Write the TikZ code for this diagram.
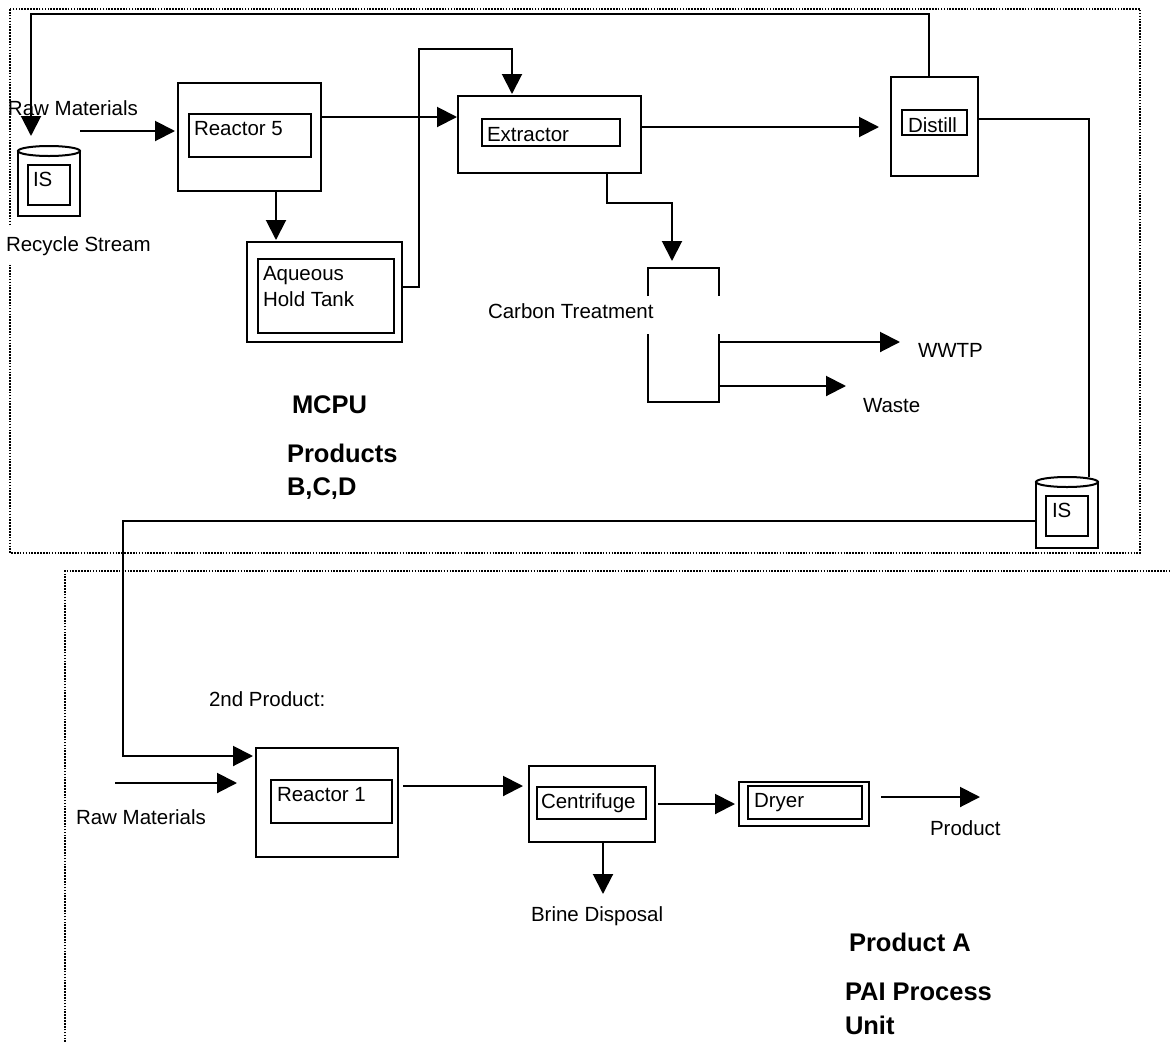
\documentclass[tikz,border=0pt]{standalone}
\usepackage{fontspec}
\setmainfont{Liberation Sans}
\usetikzlibrary{arrows.meta,calc}
\begin{document}
\begin{tikzpicture}[x=1pt,y=-1pt,
  every node/.style={inner sep=0pt,outer sep=0pt,font=\fontsize{20.5pt}{24pt}\selectfont},
  box/.style 2 args={draw,line width=2pt,minimum width=#1pt,minimum height=#2pt},
  ghost/.style 2 args={minimum width=#1pt,minimum height=#2pt},
  txt/.style={anchor=base west},
  btxt/.style={anchor=base west,font=\fontsize{25.5pt}{30pt}\selectfont\bfseries},
  wire/.style={line width=2pt},
  arr/.style={wire,-{Triangle[length=20pt,width=20pt]}},
  frame/.style={line width=1.6pt,dash pattern=on 1.6pt off 1.3pt}]
\useasboundingbox (0,0) rectangle (1171,1042);
\fill[white] (0,0) rectangle (1171,1042);

% frames
\draw[frame] (10,9) rectangle (1140,553);
\draw[frame] (65,1042) -- (65,571) -- (1171,571);

% upper unit
\node[box={143}{108}] (r5) at (249.5,137) {};
\node[box={122}{43}] (r5i) at (250,135.5) {};
\node[txt] (r5t) at (194,135) {Reactor 5};
\node[box={155}{100}] (aq) at (324.5,292) {};
\node[box={136}{74}] (aqi) at (326,296) {};
\node[txt] (aqt1) at (263,280) {Aqueous};
\node[txt] (aqt2) at (263,306) {Hold Tank};
\node[box={183}{77}] (ex) at (549.5,134.5) {};
\node[box={138}{27}] (exi) at (551,132.5) {};
\node[txt] (ext) at (487,141) {Extractor};
\node[box={87}{99}] (di) at (934.5,126.5) {};
\node[box={65}{25}] (dii) at (934.5,122.5) {};
\node[txt] (dit) at (908,132) {Distill};

\node[ghost={71}{134}] (ct) at (683.5,335) {};
\draw[wire] ([yshift=-28pt]ct.north west) -- (ct.north west) -- (ct.north east) -- ([yshift=-28pt]ct.north east);
\draw[wire] ([yshift=68pt]ct.south west) -- (ct.south west) -- (ct.south east) -- ([yshift=68pt]ct.south east);

\node[box={62}{65}] (is1) at (49,183.5) {};
\draw[wire,fill=white] (is1.north) ellipse [x radius=31pt, y radius=5pt];
\node[box={42}{40}] (is1i) at (49,185) {};
\node[txt] (is1t) at (33,186) {IS};

\node[box={62}{66}] (is2) at (1067,515) {};
\draw[wire,fill=white] (is2.north) ellipse [x radius=31pt, y radius=5pt];
\node[box={42}{40}] (is2i) at (1067,516) {};
\node[txt] (is2t) at (1052,517) {IS};

\node[txt] (rawt1) at (8,115) {Raw Materials};
\node[txt,fill=white,inner ysep=10pt,inner xsep=2pt] (rec) at (4,251) {Recycle Stream};
\node[txt] (ctt) at (488,318) {Carbon Treatment};
\node[txt] (wwtp) at (918,357) {WWTP};
\node[txt] (waste) at (863,412) {Waste};
\node[btxt] (mcpu) at (292,413) {MCPU};
\node[btxt] (prods) at (287,462) {Products};
\node[btxt] (bcd) at (287,495) {B,C,D};

% lower unit
\node[box={142}{109}] (r1) at (327,802.5) {};
\node[box={121}{43}] (r1i) at (331.5,801.5) {};
\node[txt] (r1t) at (277,801) {Reactor 1};
\node[box={126}{76}] (ce) at (592,804) {};
\node[box={109}{32}] (cei) at (591.5,803) {};
\node[txt] (cet) at (541,808) {Centrifuge};
\node[box={130}{44}] (dr) at (804,804) {};
\node[box={114}{33}] (dri) at (805,802.5) {};
\node[txt] (drt) at (754,807) {Dryer};

\node[txt] (second) at (209,706) {2nd Product:};
\node[txt] (rawt2) at (76,824) {Raw Materials};
\node[txt] (prodt) at (930,835) {Product};
\node[txt] (brine) at (531,921) {Brine Disposal};
\node[btxt] (proda) at (849,951) {Product A};
\node[btxt] (pai) at (845,1000) {PAI Process};
\node[btxt] (unit) at (845,1034) {Unit};

% connectors upper
\coordinate (rt) at (929,14);
\coordinate (lt) at (31,14);
\draw[arr,shorten >=15pt] (rt |- di.north) -- (rt) -- (lt) -- (lt |- is1.north);
\coordinate (raw1) at (80,131);
\draw[arr,shorten >=3pt] (raw1) -- (raw1 -| r5.west);
\coordinate (x276) at (276,0);
\draw[arr,shorten >=2pt] (x276 |- r5.south) -- (x276 |- aq.north);
\coordinate (b1) at (419,49);
\draw[arr,shorten >=2pt] ([yshift=5pt]aq.east) -| (b1) -| ([xshift=-37.5pt]ex.north);
\draw[arr,shorten >=1pt] ([yshift=-34pt]r5.north east) -- ([yshift=-21pt]ex.north west);
\draw[arr,shorten >=12pt] ([yshift=7.5pt]ex.east) -- ([yshift=-50pt]di.north west);
\draw[wire] ([yshift=-42pt]di.north east) -| ([xshift=22pt,yshift=5pt]is2.north);
\draw[arr,shorten >=7pt] ([xshift=57.5pt]ex.south) -- ++(0,30) -| ([xshift=-11.5pt]ct.north);
\draw[arr] ([yshift=-74pt]ct.north east) -- ++(181,0);
\draw[arr] ([yshift=-118pt]ct.north east) -- ++(127,0);

% connectors lower
\coordinate (b3) at (123,756);
\draw[arr,shorten >=3pt] ([yshift=-6pt]is2.west) -| (b3) -- (b3 -| r1.west);
\coordinate (raw2) at (115,783);
\draw[arr,shorten >=19pt] (raw2) -- (raw2 -| r1.west);
\draw[arr,shorten <=5pt,shorten >=6pt] ([yshift=16.5pt]r1.east) -- ([yshift=18pt]ce.west);
\draw[arr,shorten <=3pt,shorten >=4pt] (ce.east) -- (dr.west);
\draw[arr,shorten <=12pt] ([yshift=7pt]dr.east) -- ++(111,0);
\draw[arr] ([xshift=11pt]ce.south) -- ++(0,52);
\end{tikzpicture}
\end{document}
